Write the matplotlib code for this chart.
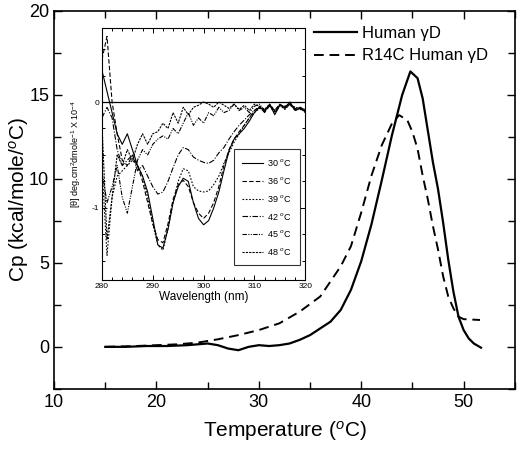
import matplotlib
matplotlib.use("Agg")
import matplotlib.pyplot as plt
from matplotlib.ticker import MultipleLocator

plt.rcParams['font.family'] = ['Liberation Sans', 'DejaVu Sans']
plt.rcParams['mathtext.fontset'] = 'custom'
plt.rcParams['mathtext.rm'] = 'Liberation Sans'
plt.rcParams['mathtext.it'] = 'Liberation Sans:italic'

# DSC: heat capacity vs temperature
temp_wt = [15, 17, 19, 21, 23, 24, 25, 26, 27, 28, 29, 30, 31, 32, 33,
           34, 35, 36, 37, 38, 39, 40, 41, 42, 43, 44, 44.8, 45.5, 46,
           46.5, 47, 47.5, 48, 48.5, 49, 49.5, 50, 50.5, 51, 51.7]
cp_wt = [0.0, 0.0, 0.05, 0.05, 0.1, 0.15, 0.2, 0.1, -0.1, -0.2, 0.0, 0.1, 0.05, 0.1, 0.2,
         0.42, 0.7, 1.1, 1.5, 2.2, 3.4, 5.1, 7.3, 9.9, 12.6, 15.0, 16.4, 16.0, 14.8,
         12.9, 11.0, 9.4, 7.4, 5.2, 3.3, 1.8, 1.0, 0.5, 0.2, -0.05]

temp_r14c = [15, 18, 20, 22, 24, 26, 28, 30, 32, 34, 36, 37, 38, 39, 40, 41, 42, 43,
             43.7, 44.5, 45, 45.5, 46, 46.5, 47, 47.5, 48, 48.5, 49, 49.5, 50, 51.6]
cp_r14c = [0.0, 0.05, 0.1, 0.15, 0.25, 0.45, 0.7, 1.0, 1.4, 2.1, 3.0, 3.9, 4.8, 6.0, 8.0, 10.2, 12.0, 13.3,
           13.8, 13.5, 12.8, 11.8, 10.2, 8.8, 7.2, 5.8, 4.2, 3.0, 2.3, 1.8, 1.65, 1.6]

# inset: CD spectra (units of 10^4 deg cm2 dmol-1)
wavelength = list(range(280, 321))
cd_30 = [0.3, 0.1, -0.1, -0.3, -0.4, -0.3, -0.45, -0.6, -0.7, -0.85, -1.1, -1.35, -1.38, -1.2,
         -0.95, -0.8, -0.72, -0.75, -0.95, -1.1, -1.16, -1.12, -1.0, -0.85, -0.65, -0.46, -0.35,
         -0.3, -0.25, -0.18, -0.1, -0.05, -0.08, -0.02, -0.12, -0.03, -0.05, 0.0, -0.08, -0.06, -0.09]
cd_36 = [0.4, 0.62, 0.0, -0.3, -0.55, -0.6, -0.5, -0.6, -0.75, -0.95, -1.15, -1.3, -1.33, -1.15,
         -0.92, -0.78, -0.74, -0.8, -0.95, -1.05, -1.1, -1.05, -0.95, -0.8, -0.6, -0.45, -0.35,
         -0.28, -0.22, -0.15, -0.08, -0.04, -0.1, -0.03, -0.08, -0.02, -0.06, -0.01, -0.07, -0.05, -0.08]
cd_39 = [-0.6, -1.45, -0.9, -0.7, -0.65, -0.6, -0.55, -0.6, -0.7, -0.9, -1.15, -1.35, -1.4, -1.2,
         -0.95, -0.75, -0.63, -0.65, -0.8, -0.84, -0.85, -0.84, -0.78, -0.7, -0.58, -0.48, -0.38,
         -0.3, -0.22, -0.15, -0.1, -0.06, -0.09, -0.04, -0.1, -0.03, -0.07, -0.02, -0.08, -0.06, -0.1]
cd_42 = [-0.15, -0.05, -0.15, -0.45, -0.6, -0.55, -0.5, -0.65, -0.6, -0.7, -0.8, -0.87, -0.85, -0.75,
         -0.62, -0.5, -0.43, -0.45, -0.52, -0.55, -0.57, -0.58, -0.55, -0.48, -0.43, -0.35, -0.28,
         -0.22, -0.17, -0.12, -0.08, -0.05, -0.09, -0.03, -0.1, -0.04, -0.06, -0.02, -0.07, -0.05, -0.08]
cd_45 = [-0.65, -0.95, -0.8, -0.6, -0.9, -1.05, -0.8, -0.55, -0.45, -0.5, -0.4, -0.35, -0.32, -0.35,
         -0.25, -0.3, -0.2, -0.1, -0.22, -0.15, -0.2, -0.1, -0.13, -0.05, -0.1, -0.08, -0.02,
         -0.08, -0.05, -0.1, -0.04, -0.02, -0.08, -0.03, -0.09, -0.02, -0.05, -0.03, -0.06, -0.07, -0.08]
cd_48 = [-0.2, -1.3, -0.9, -0.5, -0.6, -0.45, -0.55, -0.4, -0.3, -0.4, -0.3, -0.28, -0.2, -0.25,
         -0.1, -0.2, -0.05, -0.12, -0.05, -0.03, 0.0, -0.02, -0.05, 0.0, -0.03, -0.06, -0.02,
         -0.07, -0.03, -0.08, -0.02, -0.04, -0.07, -0.02, -0.08, -0.03, -0.04, -0.02, -0.05, -0.06, -0.07]

fig = plt.figure(figsize=(5.2, 4.58), dpi=100)
ax = fig.add_axes([0.104, 0.151, 0.886, 0.825])

ax.plot(temp_wt, cp_wt, color='black', lw=1.6, label='Human γD')
ax.plot(temp_r14c, cp_r14c, color='black', lw=1.4, linestyle=(0, (5, 3)), label='R14C Human γD')

ax.set_xlim(10, 55)
ax.set_ylim(-2.5, 20)
ax.xaxis.set_major_locator(MultipleLocator(10))
ax.xaxis.set_minor_locator(MultipleLocator(5))
ax.yaxis.set_major_locator(MultipleLocator(5))
ax.yaxis.set_minor_locator(MultipleLocator(2.5))
ax.tick_params(which='both', direction='in', top=True, right=True, labelsize=13, width=1)
ax.tick_params(which='major', length=6)
ax.tick_params(which='minor', length=5)
for s in ax.spines.values():
    s.set_linewidth(1.2)
ax.set_xlabel('Temperature ($^{o}$C)', fontsize=15)
ax.xaxis.set_label_coords(0.5, -0.08)
ax.set_ylabel('Cp (kcal/mole/$^{o}$C)', fontsize=15)
ax.yaxis.set_label_coords(-0.05, 0.5)
ax.legend(loc='upper right', bbox_to_anchor=(0.975, 1.0), frameon=False, fontsize=12,
          handlelength=2.6, handletextpad=0.3, labelspacing=0.45)

# inset
ins = fig.add_axes([0.196, 0.389, 0.391, 0.55])
styles = ['-', (0, (4, 2)), (0, (1.5, 1.5)), (0, (5, 1.5, 1, 1.5)),
          (0, (4, 1.2, 1, 1.2, 1, 1.2)), (0, (2, 1))]
series = [cd_30, cd_36, cd_39, cd_42, cd_45, cd_48]
labels = ['30 $^{o}$C', '36 $^{o}$C', '39 $^{o}$C', '42 $^{o}$C', '45 $^{o}$C', '48 $^{o}$C']
for vals, ls, lab in zip(series, styles, labels):
    ins.plot(wavelength, vals, color='black', lw=0.8, linestyle=ls, label=lab)
ins.axhline(0, color='black', lw=0.9)
ins.set_xlim(280, 320)
ins.set_ylim(-1.68, 0.7)
ins.xaxis.set_major_locator(MultipleLocator(10))
ins.xaxis.set_minor_locator(MultipleLocator(2))
ins.yaxis.set_minor_locator(MultipleLocator(0.25))
ins.set_yticks([0, -1])
ins.set_yticklabels(['0', '-1'])
ins.tick_params(which='both', direction='in', top=True, right=True, labelsize=6, width=0.7, pad=2)
ins.tick_params(which='major', length=3.5)
ins.tick_params(which='minor', length=2)
ins.set_xlabel('Wavelength (nm)', fontsize=8.5, labelpad=1)
ins.set_ylabel('[θ] deg.cm$^{2}$dmole$^{-1}$ X 10$^{-4}$', fontsize=6.5, labelpad=6)
leg = ins.legend(loc='lower right', bbox_to_anchor=(0.995, 0.04), fontsize=6.5, handlelength=2.4,
                 handletextpad=0.4, labelspacing=0.75, fancybox=False, edgecolor='black',
                 borderpad=0.9)
leg.get_frame().set_linewidth(0.8)

fig.savefig('out.png', dpi=100)
